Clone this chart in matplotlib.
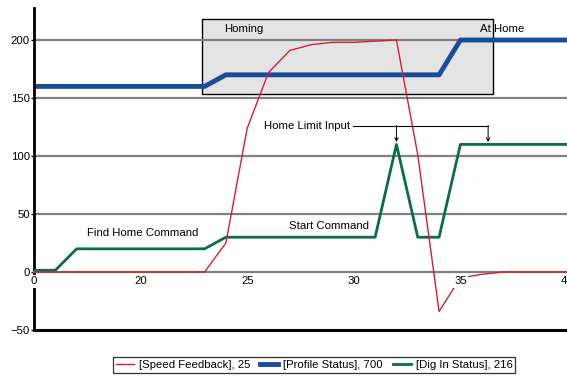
import matplotlib
matplotlib.use("Agg")
import matplotlib.pyplot as plt
from matplotlib.patches import Rectangle
from matplotlib import font_manager

names = {f.name for f in font_manager.fontManager.ttflist}
fam = ['Liberation Sans Narrow', 'DejaVu Sans'] if 'Liberation Sans Narrow' in names else ['Liberation Sans', 'DejaVu Sans']
plt.rcParams['font.family'] = fam

# data
speed_x = [15, 23, 24, 25, 26, 27, 28, 29, 30, 32, 33, 34, 35, 36, 37, 40]
speed_y = [0, 0, 25, 124, 172, 191, 196, 198, 198, 200, 101, -34, -5, -2, 0, 0]
prof_x = [15, 23, 24, 34, 35, 40]
prof_y = [160, 160, 170, 170, 200, 200]
dig_x = [15, 16, 17, 23, 24, 31, 32, 33, 34, 35, 40]
dig_y = [1.5, 1.5, 20, 20, 30, 30, 110, 30, 30, 110, 110]
xticks = [15, 20, 25, 30, 35, 40]
xtick_labels = ["0", "20", "25", "30", "35", "40"]
yticks = [-50, 0, 50, 100, 150, 200]

fig = plt.figure(figsize=(5.67, 3.76), dpi=100)
ax = fig.add_axes([0.06, 0.1223, 0.94, 0.8564])
ax.set_xlim(15, 40)
ax.set_ylim(-50, 227.6)

grid_c = '#808080'
for yv in [50, 100, 150, 200]:
    ax.axhline(yv, color=grid_c, lw=1.6, zorder=1)

ax.add_patch(Rectangle((22.9, 153.4), 36.54 - 22.9, 218 - 153.4,
                       facecolor='#e4e4e4', edgecolor='black', lw=1.0, zorder=0.5))

ax.plot(speed_x, speed_y, color='#d42030', lw=1.0, zorder=3, label='[Speed Feedback], 25')
ax.plot(prof_x, prof_y, color='#1a4c9c', lw=3.5, zorder=2.5, label='[Profile Status], 700')
ax.plot(dig_x, dig_y, color='#0b6b4c', lw=2.0, zorder=2.6, label='[Dig In Status], 216')

# spines
ax.spines['right'].set_visible(False)
ax.spines['left'].set_linewidth(2.0)
ax.spines['bottom'].set_position(('data', 0))
ax.spines['bottom'].set_color(grid_c)
ax.spines['bottom'].set_linewidth(1.6)
ax.spines['top'].set_position(('data', -50))
ax.spines['top'].set_linewidth(2.2)
ax.spines['top'].set_color('black')

fs = 8.2
ax.set_xticks(xticks)
ax.set_xticklabels(xtick_labels)
ax.set_yticks(yticks)
ax.tick_params(axis='x', length=0, labelsize=fs, pad=3)
ax.tick_params(axis='y', length=2, width=1, labelsize=fs, pad=1)
for lab in ax.get_xticklabels():
    lab.set_bbox(dict(facecolor='white', edgecolor='none', pad=1.0))
    lab.set_zorder(5)
ax.xaxis.set_zorder(5)

ax.text(23.9, 209.5, 'Homing', fontsize=fs, va='center', ha='left')
ax.text(35.9, 209.5, 'At Home', fontsize=fs, va='center', ha='left')
ax.text(25.8, 125.8, 'Home Limit Input', fontsize=fs, va='center', ha='left')
ax.text(17.5, 33.6, 'Find Home Command', fontsize=fs, va='center', ha='left')
ax.text(26.96, 39.7, 'Start Command', fontsize=fs, va='center', ha='left')

ax.plot([29.95, 36.3], [126.2, 126.2], color='black', lw=0.8, zorder=4)
for xa in [32.0, 36.3]:
    ax.annotate('', xy=(xa, 112), xytext=(xa, 126.2),
                arrowprops=dict(arrowstyle='->', color='black', lw=0.7, shrinkA=0, shrinkB=0,
                                mutation_scale=6), zorder=4)

leg = fig.legend(loc='upper center', bbox_to_anchor=(0.554, 0.05), ncol=3, fontsize=fs,
                 frameon=True, fancybox=False, edgecolor='black', handlelength=1.6,
                 columnspacing=0.9, handletextpad=0.4, borderpad=0.25, borderaxespad=0)
leg.get_frame().set_linewidth(0.9)

fig.savefig('out.png', dpi=100)
